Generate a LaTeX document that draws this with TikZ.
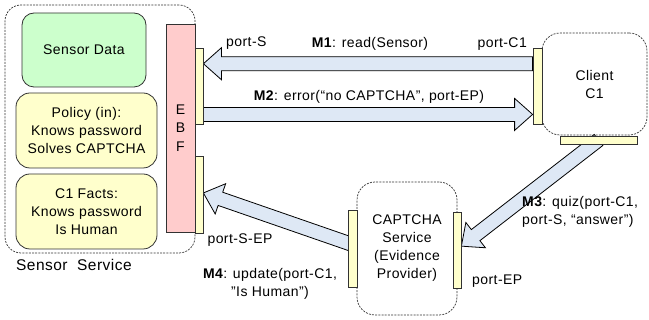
\documentclass[tikz,border=0pt]{standalone}
\usepackage{fontspec}
\setmainfont{Liberation Sans}[LetterSpace=3]
\usetikzlibrary{calc}

\definecolor{boxgreen}{RGB}{204,255,204}
\definecolor{boxyellow}{RGB}{255,255,204}
\definecolor{boxpink}{RGB}{255,204,204}
\definecolor{flowblue}{RGB}{222,232,245}
\definecolor{edgegray}{RGB}{50,50,50}

\pgfdeclarelayer{back}
\pgfsetlayers{back,main}

\tikzset{
  txt/.style={font=\fontsize{14}{18}\selectfont, align=center, inner sep=0pt},
  infobox/.style={draw=edgegray, line width=0.8pt, rounded corners=12pt, inner sep=0pt, txt},
  service/.style={draw=edgegray, line width=0.7pt, dash pattern=on 2pt off 1.2pt,
    rounded corners=16pt, inner sep=0pt, txt},
  portbar/.style={draw=edgegray, line width=0.8pt, fill=boxyellow, inner sep=0pt},
  flow/.style={draw=black, line width=0.8pt, fill=flowblue, line join=miter},
}

% block arrow from #1 to #2 (shaft half-width 7pt, head half-width 16pt, head length 18pt)
\newcommand\flowarrow[2]{%
  \filldraw[flow] let \p1=(#1), \p2=(#2),
      \n1={atan2(\y2-\y1,\x2-\x1)}, \n2={veclen(\x2-\x1,\y2-\y1)-18pt} in
    ($(\p1)+({\n1+90}:7pt)$) -- ($(\p1)+(\n1:\n2)+({\n1+90}:7pt)$)
    -- ($(\p1)+(\n1:\n2)+({\n1+90}:16pt)$) -- (\p2)
    -- ($(\p1)+(\n1:\n2)+({\n1-90}:16pt)$) -- ($(\p1)+(\n1:\n2)+({\n1-90}:7pt)$)
    -- ($(\p1)+({\n1-90}:7pt)$) -- cycle;}

\begin{document}
\begin{tikzpicture}[x=1pt, y=-1pt]
\useasboundingbox (0,0) rectangle (649,320);

% Sensor Service
\node[service, minimum width=190pt, minimum height=248pt] (ss) at (100,129) {};
\node[infobox, fill=boxgreen, minimum width=124pt, minimum height=74pt] (data) at (84,50) {Sensor Data};
\node[infobox, fill=boxyellow, minimum width=141pt, minimum height=75pt, rounded corners=14pt] (policy) at (86.5,130.5)
  {Policy (in):\\Knows password\\Solves CAPTCHA};
\node[infobox, fill=boxyellow, minimum width=141pt, minimum height=75pt, rounded corners=14pt] (facts) at (86.5,211.5)
  {C1 Facts:\\Knows password\\Is Human};
\node[draw=edgegray, line width=0.8pt, fill=boxpink, minimum width=29pt, minimum height=208pt, inner sep=0pt,
  font=\fontsize{14}{18.5}\selectfont, align=center] (ebf) at (180.5,128) {E\\B\\F};
\node[portbar, minimum width=8pt, minimum height=76pt] (pS) at (199,86) {};
\node[portbar, minimum width=8pt, minimum height=77pt] (pSEP) at (199,194.5) {};
\node[anchor=west, inner sep=0pt, font=\fontsize{15.5}{18}\selectfont] (lSS) at (16,265) {Sensor\ \ Service};

% Client C1
\node[service, minimum width=105pt, minimum height=102pt, rounded corners=18pt] (client) at (594.5,84) {Client\\C1};
\node[portbar, minimum width=9pt, minimum height=76pt] (pC1) at (537.5,86) {};
\node[portbar, minimum width=77pt, minimum height=8pt] (pCb) at (598.5,140) {};

% CAPTCHA Service
\node[service, minimum width=100pt, minimum height=133pt, rounded corners=18pt] (captcha) at (407,248.5)
  {CAPTCHA\\Service\\(Evidence\\Provider)};
\node[portbar, minimum width=9pt, minimum height=77pt] (pEPl) at (352.5,248.5) {};
\node[portbar, minimum width=8pt, minimum height=76pt] (pEP) at (457,250) {};

% message end points on the ports
\coordinate (m1a) at ($(pC1.north west)!0.21!(pC1.south west)$);
\coordinate (m1b) at ($(pS.north east)!0.21!(pS.south east)$);
\coordinate (m2a) at ($(pS.north east)!0.87!(pS.south east)$);
\coordinate (m2b) at ($(pC1.north west)!0.87!(pC1.south west)$);
\coordinate (m3a) at (pCb.center);
\coordinate (m3b) at ($(pEP.north east)!0.45!(pEP.south east)$);
\coordinate (m4a) at ($(pEPl.north)!0.45!(pEPl.south)$);
\coordinate (m4b) at ($(pSEP.north east)!0.48!(pSEP.south east)$);

% messages
\begin{pgfonlayer}{back}
  \flowarrow{m1a}{m1b}
  \flowarrow{m2a}{m2b}
  \flowarrow{m3a}{m3b}
  \flowarrow{m4a}{m4b}
\end{pgfonlayer}

% labels
\node[txt, anchor=west] (lpS) at (226,43) {port-S};
\node[txt] (lM1) at (370,44) {\textbf{M1}: read(Sensor)};
\node[txt, anchor=east] (lpC1) at (527,44) {port-C1};
\node[txt] (lM2) at (369,97) {\textbf{M2}: error(“no CAPTCHA", port-EP)};
\node[txt] (lpSEP) at (240,240) {port-S-EP};
\node[txt] (lM4) at (270,284) {\textbf{M4}: update(port-C1,\\"Is Human")};
\node[txt, align=left, anchor=west] (lM3) at (522,212) {\textbf{M3}: quiz(port-C1,\\port-S, “answer")};
\node[txt, anchor=west] (lpEP) at (472,281) {port-EP};
\end{tikzpicture}
\end{document}
